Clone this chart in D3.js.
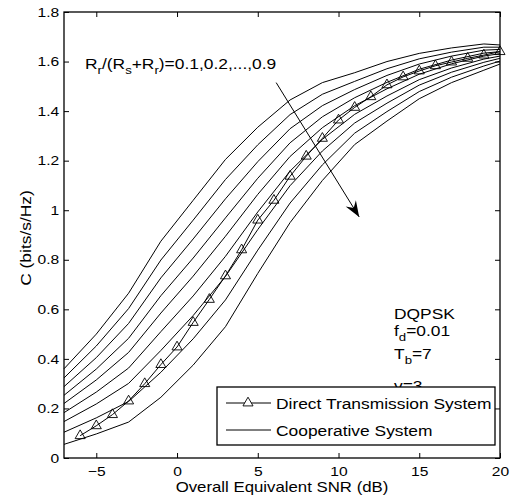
<!DOCTYPE html>
<html>
<head>
<meta charset="utf-8">
<script src="https://cdn.jsdelivr.net/npm/d3@7"></script>
<style>
  body { margin: 0; background: #fff; }
  svg { display: block; font-family: "Liberation Sans", Arial, Helvetica, sans-serif; }
</style>
</head>
<body>
<svg id="chart" width="512" height="498"></svg>
<script>
// SNR (dB) where the cooperative curves were sampled
const snrCoop = [-7, -5, -3, -1, 1, 3, 5, 7, 9, 11, 13, 15, 17, 19, 20];
// capacity for Rr/(Rs+Rr) = 0.1 ... 0.9
const capRatio01 = [0.36, 0.50, 0.665, 0.875, 1.04, 1.205, 1.335, 1.445, 1.515, 1.555, 1.60, 1.633, 1.655, 1.671, 1.667];
const capRatio02 = [0.323, 0.452, 0.603, 0.799, 0.960, 1.124, 1.264, 1.386, 1.468, 1.520, 1.571, 1.611, 1.638, 1.658, 1.658];
const capRatio03 = [0.288, 0.405, 0.543, 0.727, 0.884, 1.046, 1.196, 1.329, 1.422, 1.487, 1.544, 1.590, 1.622, 1.646, 1.649];
const capRatio04 = [0.253, 0.359, 0.483, 0.655, 0.807, 0.969, 1.129, 1.272, 1.377, 1.454, 1.516, 1.569, 1.606, 1.634, 1.640];
const capRatio05 = [0.220, 0.315, 0.426, 0.585, 0.734, 0.895, 1.064, 1.217, 1.333, 1.422, 1.490, 1.549, 1.591, 1.622, 1.632];
const capRatio06 = [0.183, 0.266, 0.363, 0.510, 0.654, 0.814, 0.993, 1.158, 1.286, 1.387, 1.461, 1.527, 1.574, 1.610, 1.622];
const capRatio07 = [0.147, 0.218, 0.301, 0.434, 0.575, 0.733, 0.922, 1.099, 1.239, 1.352, 1.432, 1.505, 1.557, 1.597, 1.613];
const capRatio08 = [0.104, 0.162, 0.228, 0.346, 0.481, 0.638, 0.839, 1.029, 1.183, 1.311, 1.398, 1.479, 1.537, 1.582, 1.602];
const capRatio09 = [0.055, 0.097, 0.145, 0.245, 0.375, 0.530, 0.745, 0.950, 1.120, 1.265, 1.360, 1.450, 1.515, 1.565, 1.590];

// direct transmission (triangles)
const snrDirect = [-6, -5, -4, -3, -2, -1, 0, 1, 2, 3, 4, 5, 6, 7, 8, 9, 10, 11, 12, 13, 14, 15, 16, 17, 18, 19, 20];
const capDirect = [0.09, 0.13, 0.175, 0.23, 0.30, 0.377, 0.448, 0.547, 0.64, 0.735, 0.84, 0.96, 1.04, 1.137, 1.218, 1.29, 1.364, 1.415, 1.458, 1.506, 1.538, 1.562, 1.583, 1.598, 1.613, 1.626, 1.64];

const xTicks = [-5, 0, 5, 10, 15, 20];
const yTicks = [0, 0.2, 0.4, 0.6, 0.8, 1, 1.2, 1.4, 1.6, 1.8];
const legendLabels = ["Direct Transmission System", "Cooperative System"];
// arrow across the family, [snr, C] start and end
const arrowFrom = [6.14, 1.515];
const arrowTo = [11.28, 0.973];

const svg = d3.select("#chart");
const margin = { top: 12, right: 12, bottom: 40, left: 64 };
const width = +svg.attr("width") - margin.left - margin.right;
const height = +svg.attr("height") - margin.top - margin.bottom;

// the original's helvetica renders wider than liberation, stretch text a bit
const SX = 1.2;
const placeText = (sel, px, py, rot) =>
    sel.attr("transform", `translate(${px},${py})${rot ? ` rotate(${rot})` : ""} scale(${SX},1)`);

const x = d3.scaleLinear().domain([-7, 20]).range([0, width]);
const y = d3.scaleLinear().domain([0, 1.8]).range([height, 0]);

const g = svg.append("g").attr("transform", `translate(${margin.left},${margin.top})`);

const coopSeries = [capRatio01, capRatio02, capRatio03, capRatio04, capRatio05,
    capRatio06, capRatio07, capRatio08, capRatio09];

const line = d3.line().x(d => x(d[0])).y(d => y(d[1]));

g.selectAll(".coop")
    .data(coopSeries)
    .enter().append("path")
    .attr("class", "coop")
    .attr("d", s => line(s.map((c, i) => [snrCoop[i], c])))
    .attr("fill", "none")
    .attr("stroke", "#000")
    .attr("stroke-width", 1);

const direct = snrDirect.map((s, i) => [s, capDirect[i]]);
g.append("path")
    .attr("d", line(direct))
    .attr("fill", "none")
    .attr("stroke", "#000")
    .attr("stroke-width", 1);

const tri = d3.symbol().type(d3.symbolTriangle).size(44);
g.selectAll(".mark")
    .data(direct)
    .enter().append("path")
    .attr("class", "mark")
    .attr("d", tri)
    .attr("transform", d => `translate(${x(d[0])},${y(d[1])})`)
    .attr("fill", "none")
    .attr("stroke", "#000")
    .attr("stroke-width", 0.9);

// axes, matlab style: ticks inside on all four sides
const fmt = d3.format("~g");
const axB = g.append("g").attr("transform", `translate(0,${height})`)
    .call(d3.axisBottom(x).tickValues(xTicks).tickSize(-5).tickPadding(9).tickFormat(fmt));
const axL = g.append("g")
    .call(d3.axisLeft(y).tickValues(yTicks).tickSize(-5).tickPadding(4).tickFormat(fmt));
const axT = g.append("g")
    .call(d3.axisTop(x).tickValues(xTicks).tickSize(-5).tickFormat(""));
const axR = g.append("g").attr("transform", `translate(${width},0)`)
    .call(d3.axisRight(y).tickValues(yTicks).tickSize(-5).tickFormat(""));
[axB, axL, axT, axR].forEach(a => {
    a.select(".domain").remove();
    a.selectAll("line").attr("stroke", "#000");
    a.selectAll("text").attr("fill", "#000").style("font-size", "13px")
        .style("font-family", "'Liberation Sans', Arial, sans-serif")
        .attr("transform", `scale(${SX},1)`);
});
g.append("rect")
    .attr("width", width).attr("height", height)
    .attr("fill", "none").attr("stroke", "#000").attr("stroke-width", 1.3);

// axis labels
placeText(svg.append("text"), margin.left + width / 2, 492, 0)
    .attr("text-anchor", "middle").style("font-size", "14px")
    .text("Overall Equivalent SNR (dB)");
placeText(svg.append("text"), 31, 238, -90)
    .attr("text-anchor", "middle").style("font-size", "14.5px")
    .text("C (bits/s/Hz)");

// ratio annotation with subscripts
const ann = placeText(svg.append("text"), 85, 69, 0).style("font-size", "14.5px");
const sub = (t) => ann.append("tspan").attr("dy", 5).style("font-size", "11px").text(t);
const up = (t) => ann.append("tspan").attr("dy", -5).text(t);
ann.append("tspan").text("R");
sub("r"); up("/(R"); sub("s"); up("+R"); sub("r"); up(")=0.1,0.2,...,0.9");

// arrow
const ax0 = margin.left + x(arrowFrom[0]), ay0 = margin.top + y(arrowFrom[1]);
const ax1 = margin.left + x(arrowTo[0]), ay1 = margin.top + y(arrowTo[1]);
svg.append("line")
    .attr("x1", ax0).attr("y1", ay0).attr("x2", ax1).attr("y2", ay1)
    .attr("stroke", "#000").attr("stroke-width", 1);
const ang = Math.atan2(ay1 - ay0, ax1 - ax0);
const headL = 16, headW = 6;
const bx = ax1 - headL * Math.cos(ang), by = ay1 - headL * Math.sin(ang);
const nx = -Math.sin(ang), ny = Math.cos(ang);
const mx = ax1 - headL * 0.65 * Math.cos(ang), my = ay1 - headL * 0.65 * Math.sin(ang);
svg.append("path")
    .attr("d", `M${ax1},${ay1}L${bx + nx * headW},${by + ny * headW}L${mx},${my}L${bx - nx * headW},${by - ny * headW}Z`)
    .attr("fill", "#000");

// parameter block
const params = svg.append("g").style("font-size", "14.5px");
placeText(params.append("text"), 394, 319, 0).text("DQPSK");
const fd = placeText(params.append("text"), 394, 336, 0);
fd.append("tspan").text("f");
fd.append("tspan").attr("dy", 5).style("font-size", "11px").text("d");
fd.append("tspan").attr("dy", -5).text("=0.01");
const tb = placeText(params.append("text"), 394, 359, 0);
tb.append("tspan").text("T");
tb.append("tspan").attr("dy", 5).style("font-size", "11px").text("b");
tb.append("tspan").attr("dy", -5).text("=7");
placeText(params.append("text"), 394, 391, 0).text("v=3");

// legend
const lg = svg.append("g").attr("transform", "translate(217,387)");
lg.append("rect").attr("width", 278).attr("height", 58)
    .attr("fill", "#fff").attr("stroke", "#000").attr("stroke-width", 1.3);
lg.append("line").attr("x1", 9).attr("x2", 54).attr("y1", 16).attr("y2", 16).attr("stroke", "#000");
lg.append("path").attr("d", tri).attr("transform", "translate(31,16)")
    .attr("fill", "#fff").attr("stroke", "#000").attr("stroke-width", 0.9);
lg.append("line").attr("x1", 9).attr("x2", 54).attr("y1", 43).attr("y2", 43).attr("stroke", "#000");
lg.selectAll(".lt")
    .data(legendLabels)
    .enter().append("text")
    .each(function (d, i) { placeText(d3.select(this), 59, 22 + i * 27, 0); })
    .style("font-size", "14.5px")
    .text(d => d);
</script>
</body>
</html>
